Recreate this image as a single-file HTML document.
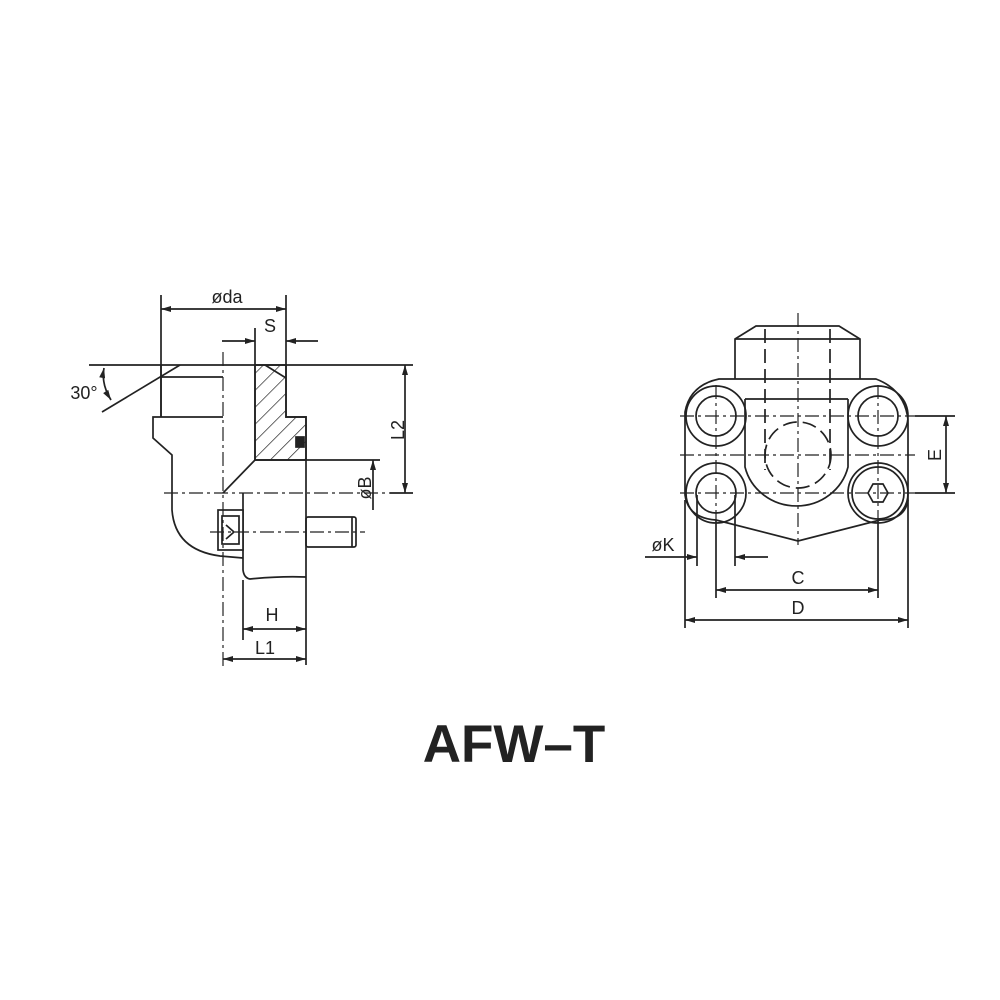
<!DOCTYPE html>
<html><head><meta charset="utf-8"><style>
html,body{margin:0;padding:0;background:#fff;width:1000px;height:1000px;overflow:hidden}
svg{display:block}
text{font-family:"Liberation Sans",sans-serif;fill:#222}
</style></head><body>
<svg width="1000" height="1000" viewBox="0 0 1000 1000">
<defs>
<marker id="a" viewBox="0 0 10 6" refX="10" refY="3" markerWidth="11" markerHeight="6" orient="auto-start-reverse" markerUnits="userSpaceOnUse"><path d="M0,0 L10,3 L0,6 z" fill="#222"/></marker>
<pattern id="h" patternUnits="userSpaceOnUse" width="12" height="12" patternTransform="rotate(45)"><line x1="0" y1="0" x2="0" y2="12" stroke="#222" stroke-width="1.4"/></pattern>
</defs>
<g stroke="#222" stroke-width="1.7" fill="none">
<!-- LEFT VIEW -->
<line x1="161" y1="295" x2="161" y2="417"/>
<line x1="286" y1="295" x2="286" y2="365"/>
<line x1="161" y1="309" x2="286" y2="309" marker-start="url(#a)" marker-end="url(#a)"/>
<line x1="255" y1="328" x2="255" y2="365"/>
<line x1="222" y1="341" x2="255" y2="341" marker-end="url(#a)"/>
<line x1="318" y1="341" x2="286" y2="341" marker-end="url(#a)"/>
<line x1="89" y1="365" x2="413" y2="365"/>
<line x1="180" y1="365" x2="102" y2="412"/>
<path d="M104 368 Q101 384 111 400" marker-start="url(#a)" marker-end="url(#a)"/>
<path d="M255 365 L286 365 L286 417 L306 417 L306 460 L255 460 Z" fill="url(#h)"/>
<path d="M265 365 L286 378" />
<line x1="161" y1="365" x2="161" y2="417"/>
<line x1="161" y1="377" x2="223" y2="377"/>
<line x1="255" y1="365" x2="255" y2="460"/>
<path d="M286 365 L286 417 L306 417 L306 577"/>
<line x1="255" y1="460" x2="380" y2="460"/>
<line x1="255" y1="460" x2="223" y2="493"/>
<path d="M223 417 L153 417 L153 438 L172 455 L172 510 Q175 550 220 556 L243 558"/>
<path d="M243 493 L243 570 Q244 578 250 579 Q280 576 306 577"/>
<rect x="296" y="437" width="8" height="10" fill="#222"/>
<rect x="218" y="510" width="25" height="40" fill="#fff"/>
<rect x="222" y="516" width="17" height="28"/>
<path d="M226 525 L234 532 L226 539"/>
<rect x="306" y="517" width="50" height="30" rx="2"/>
<line x1="352" y1="517" x2="352" y2="547"/>
<g stroke-dasharray="14 4 3 4" stroke-width="1.2">
<line x1="223" y1="352" x2="223" y2="668"/>
<line x1="164" y1="493" x2="390" y2="493"/>
<line x1="210" y1="532" x2="365" y2="532"/>
</g>
<line x1="390" y1="493" x2="413" y2="493"/>
<line x1="405" y1="365" x2="405" y2="493" marker-start="url(#a)" marker-end="url(#a)"/>
<line x1="373" y1="510" x2="373" y2="460" marker-end="url(#a)"/>
<line x1="243" y1="580" x2="243" y2="640"/>
<line x1="306" y1="577" x2="306" y2="665"/>
<line x1="243" y1="629" x2="306" y2="629" marker-start="url(#a)" marker-end="url(#a)"/>
<line x1="223" y1="659" x2="306" y2="659" marker-start="url(#a)" marker-end="url(#a)"/>

<!-- RIGHT VIEW -->
<path d="M735 379 L735 339 L756 326 L839 326 L860 339 L860 379"/>
<line x1="735" y1="339" x2="860" y2="339"/>
<path d="M719 379 L876 379 Q905 390 908 420 L908 500 Q905 520 880 520 L798 541 L716 520 Q688 518 685 495 L685 412 Q690 385 719 379 Z"/>
<circle cx="716" cy="416" r="30"/><circle cx="716" cy="416" r="20"/>
<circle cx="878" cy="416" r="30"/><circle cx="878" cy="416" r="20"/>
<circle cx="716" cy="493" r="30"/><circle cx="716" cy="493" r="20"/>
<circle cx="878" cy="493" r="30"/><circle cx="878" cy="493" r="26"/>
<path d="M868 493 L873 484 L883 484 L888 493 L883 502 L873 502 Z"/>
<path d="M745 399 L848 399 M745 399 L745 467 A53 51 0 0 0 848 467 L848 399"/>
<g stroke-dasharray="14 6">
<line x1="765" y1="329" x2="765" y2="470"/>
<line x1="830" y1="329" x2="830" y2="470"/>
<circle cx="798" cy="455" r="33"/>
</g>
<g stroke-dasharray="14 4 3 4" stroke-width="1.2">
<line x1="798" y1="313" x2="798" y2="545"/>
<line x1="680" y1="416" x2="915" y2="416"/>
<line x1="680" y1="455" x2="915" y2="455"/>
<line x1="680" y1="493" x2="915" y2="493"/>
<line x1="716" y1="385" x2="716" y2="520"/>
<line x1="878" y1="385" x2="878" y2="520"/>
</g>
<line x1="915" y1="416" x2="955" y2="416"/>
<line x1="915" y1="493" x2="955" y2="493"/>
<line x1="946" y1="416" x2="946" y2="493" marker-start="url(#a)" marker-end="url(#a)"/>
<line x1="697" y1="495" x2="697" y2="566"/>
<line x1="735" y1="495" x2="735" y2="566"/>
<line x1="645" y1="557" x2="697" y2="557" marker-end="url(#a)"/>
<line x1="768" y1="557" x2="735" y2="557" marker-end="url(#a)"/>
<line x1="716" y1="520" x2="716" y2="598"/>
<line x1="878" y1="520" x2="878" y2="598"/>
<line x1="685" y1="500" x2="685" y2="628"/>
<line x1="908" y1="500" x2="908" y2="628"/>
<line x1="716" y1="590" x2="878" y2="590" marker-start="url(#a)" marker-end="url(#a)"/>
<line x1="685" y1="620" x2="908" y2="620" marker-start="url(#a)" marker-end="url(#a)"/>
</g>
<g font-size="18">
<text x="227" y="303" text-anchor="middle">øda</text>
<text x="270" y="332" text-anchor="middle">S</text>
<text x="84" y="399" text-anchor="middle">30°</text>
<text x="272" y="621" text-anchor="middle">H</text>
<text x="265" y="654" text-anchor="middle">L1</text>
<text transform="translate(404,430) rotate(-90)" text-anchor="middle">L2</text>
<text transform="translate(371,488) rotate(-90)" text-anchor="middle">øB</text>
<text x="663" y="551" text-anchor="middle">øK</text>
<text x="798" y="584" text-anchor="middle">C</text>
<text x="798" y="614" text-anchor="middle">D</text>
<text transform="translate(941,455) rotate(-90)" text-anchor="middle">E</text>
</g>
<text x="514" y="762" text-anchor="middle" font-size="53" font-weight="bold" fill="#1a1a1a">AFW–T</text>
</svg>
</body></html>
